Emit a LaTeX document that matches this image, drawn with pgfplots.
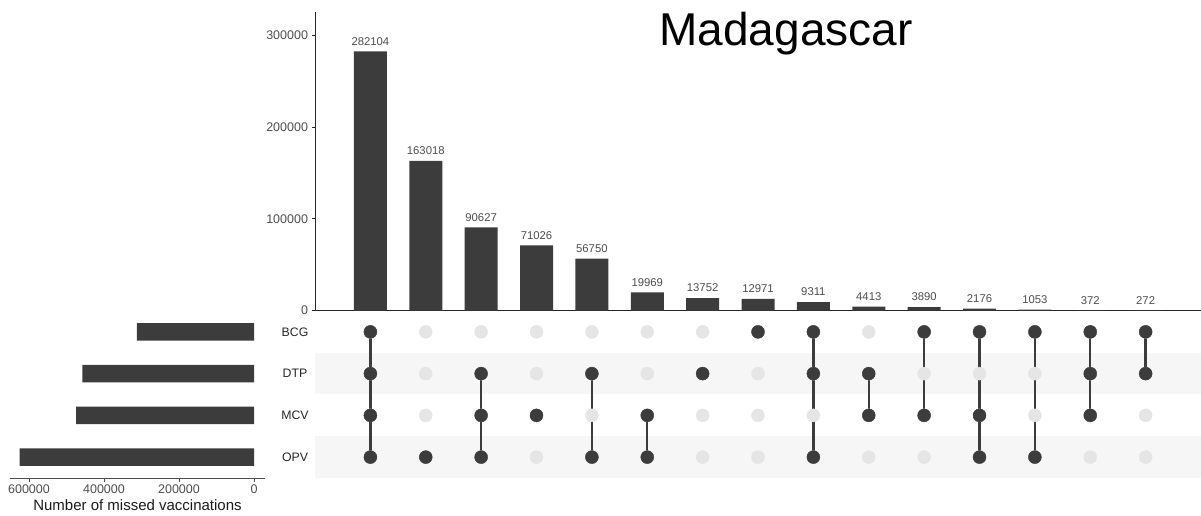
\documentclass[border=0pt]{standalone}
\usepackage{fontspec}
\setmainfont{Liberation Sans}
\usepackage{pgfplots}
\pgfplotsset{compat=1.18}

\definecolor{barc}{RGB}{60,60,60}
\definecolor{txt}{RGB}{77,77,77}
\definecolor{band}{RGB}{246,246,246}
\definecolor{offdot}{RGB}{229,229,229}

\begin{document}
\begin{tikzpicture}
\useasboundingbox (0pt,0pt) rectangle (1201pt,516pt);

% intersection sizes
\begin{axis}[
  at={(315pt,205.3pt)}, anchor=south west,
  scale only axis, width=886pt, height=299pt,
  xmin=0, xmax=16, ymin=0, ymax=325400,
  axis x line*=bottom, axis y line*=left,
  axis line style={-, draw=black!85, line width=0.9pt},
  xtick=\empty,
  ytick={0,100000,200000,300000},
  scaled y ticks=false,
  /pgf/number format/assume math mode=true,
  yticklabel style={/pgf/number format/fixed, /pgf/number format/1000 sep={},
    font=\fontsize{12.5}{14}\selectfont, text=txt},
  tick align=outside, major tick length=3.5pt,
  ytick style={draw=black!85, line width=0.8pt},
  ybar, bar width=33pt, bar shift=0pt,
  nodes near coords, point meta=explicit symbolic,
  every node near coord/.append style={font=\fontsize{11.3}{13}\selectfont, text=txt, anchor=south, yshift=2.5pt},
  clip=false,
]
\addplot[fill=barc, draw=none] coordinates {
  (1,282104) [282104]
  (2,163018) [163018]
  (3,90627) [90627]
  (4,71026) [71026]
  (5,56750) [56750]
  (6,19969) [19969]
  (7,13752) [13752]
  (8,12971) [12971]
  (9,9311) [9311]
  (10,4413) [4413]
  (11,3890) [3890]
  (12,2176) [2176]
  (13,1053) [1053]
  (14,372) [372]
  (15,272) [272]
};
\end{axis}

% membership matrix (rows: 1 OPV, 2 MCV, 3 DTP, 4 BCG)
\begin{axis}[
  at={(315pt,38pt)}, anchor=south west,
  scale only axis, width=886pt, height=167pt,
  xmin=0, xmax=16, ymin=0.5, ymax=4.5,
  axis line style={draw=none},
  xtick=\empty, ytick={1,2,3,4}, yticklabels={OPV,MCV,DTP,BCG},
  major tick length=0pt,
  yticklabel style={anchor=center, xshift=-20pt, font=\fontsize{12.3}{14}\selectfont, text=black!85},
  clip=false,
]
\addplot[fill=band, draw=none] coordinates {(0,0.5) (16,0.5) (16,1.5) (0,1.5)} -- cycle;
\addplot[fill=band, draw=none] coordinates {(0,2.5) (16,2.5) (16,3.5) (0,3.5)} -- cycle;
\addplot[only marks, mark=*, mark size=6.5pt, color=offdot, mark options={fill=offdot, draw=offdot}] coordinates {
  (1,1) (2,1) (3,1) (4,1) (5,1) (6,1) (7,1) (8,1) (9,1) (10,1) (11,1) (12,1) (13,1) (14,1) (15,1)
  (1,2) (2,2) (3,2) (4,2) (5,2) (6,2) (7,2) (8,2) (9,2) (10,2) (11,2) (12,2) (13,2) (14,2) (15,2)
  (1,3) (2,3) (3,3) (4,3) (5,3) (6,3) (7,3) (8,3) (9,3) (10,3) (11,3) (12,3) (13,3) (14,3) (15,3)
  (1,4) (2,4) (3,4) (4,4) (5,4) (6,4) (7,4) (8,4) (9,4) (10,4) (11,4) (12,4) (13,4) (14,4) (15,4)
};
\addplot[barc, line width=2.4pt, unbounded coords=jump, mark=none] coordinates {
  (1,1) (1,4) (nan,nan)
  (3,1) (3,3) (nan,nan)
  (5,1) (5,3) (nan,nan)
  (6,1) (6,2) (nan,nan)
  (9,1) (9,4) (nan,nan)
  (10,2) (10,3) (nan,nan)
  (11,2) (11,4) (nan,nan)
  (12,1) (12,4) (nan,nan)
  (13,1) (13,4) (nan,nan)
  (14,2) (14,4) (nan,nan)
  (15,3) (15,4)
};
\addplot[only marks, mark=*, mark size=6.5pt, color=barc, mark options={fill=barc, draw=barc}] coordinates {
  (1,1) (1,2) (1,3) (1,4)
  (2,1)
  (3,1) (3,2) (3,3)
  (4,2)
  (5,1) (5,3)
  (6,1) (6,2)
  (7,3)
  (8,4)
  (9,1) (9,3) (9,4)
  (10,2) (10,3)
  (11,2) (11,4)
  (12,1) (12,2) (12,4)
  (13,1) (13,4)
  (14,2) (14,3) (14,4)
  (15,3) (15,4)
};
\end{axis}

% set sizes
\begin{axis}[
  at={(10pt,38pt)}, anchor=south west,
  scale only axis, width=255pt, height=167pt,
  xmin=-29333, xmax=650667, x dir=reverse,
  ymin=0.5, ymax=4.5,
  axis x line*=bottom, axis y line=none,
  axis line style={-, draw=black!70, line width=0.9pt},
  xtick={0,200000,400000,600000},
  scaled x ticks=false,
  /pgf/number format/assume math mode=true,
  xticklabel style={/pgf/number format/fixed, /pgf/number format/1000 sep={},
    font=\fontsize{12.5}{14}\selectfont, text=txt},
  tick align=outside, major tick length=3.5pt,
  xtick style={draw=black!70, line width=0.8pt},
  ytick=\empty,
  xbar, bar width=17.5pt, bar shift=0pt,
  xlabel={Number of missed vaccinations},
  xlabel style={font=\fontsize{15}{17}\selectfont, text=black!90, yshift=1pt},
]
\addplot[fill=barc, draw=none] coordinates {(312149,4) (457601,3) (474577,2) (625008,1)};
\end{axis}

\node[font=\fontsize{46}{50}\selectfont, anchor=base] at (786pt,470.3pt) {Madagascar};
\end{tikzpicture}
\end{document}
